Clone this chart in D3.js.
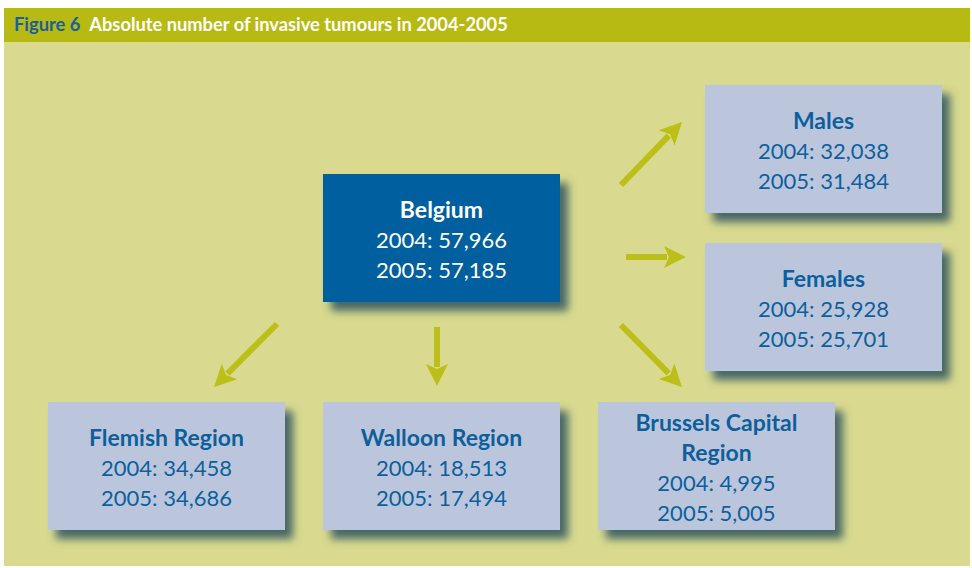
<!DOCTYPE html>
<html lang="en">
<head>
  <meta charset="UTF-8">
  <title>Absolute number of invasive tumours in 2004-2005</title>
  <script src="https://d3js.org/d3.v7.min.js"></script>
  <style>
    body { margin: 0; background: #fff; }
    svg { display: block; font-family: Lato, "Open Sans", sans-serif; }
  </style>
</head>
<body>
  <svg width="972" height="568"></svg>

  <script>
    // data
    const regions = ["Flemish Region", "Walloon Region", "Brussels Capital Region"];
    const regions2004 = [34458, 18513, 4995];
    const regions2005 = [34686, 17494, 5005];
    const sexes = ["Males", "Females"];
    const sexes2004 = [32038, 25928];
    const sexes2005 = [31484, 25701];
    const total = { name: "Belgium", v2004: 57966, v2005: 57185 };

    const svg = d3.select("svg");
    const fmt = d3.format(",");

    const boxW = 237, boxH = 128;
    const blue = "#0d5f9c", olive = "#bcbf18";

    // shadow filter
    const defs = svg.append("defs");
    const f = defs.append("filter").attr("id", "shadow")
      .attr("x", "-10%").attr("y", "-10%").attr("width", "130%").attr("height", "140%");
    f.append("feDropShadow")
      .attr("dx", 8).attr("dy", 9).attr("stdDeviation", 4)
      .attr("flood-color", "#3f6265").attr("flood-opacity", 0.95);

    // panel + header
    svg.append("rect").attr("x", 4).attr("y", 42).attr("width", 966).attr("height", 524).attr("fill", "#d9da8f");
    svg.append("rect").attr("x", 4).attr("y", 8).attr("width", 966).attr("height", 34).attr("fill", "#b8ba14");
    const title = svg.append("text").attr("x", 14).attr("y", 31)
      .attr("font-size", 18.3).attr("font-weight", "bold");
    title.append("tspan").attr("fill", "#1a5f9a").text("Figure 6");
    title.append("tspan").attr("fill", "#fff").attr("dx", 9).text("Absolute number of invasive tumours in 2004-2005");

    // scales for positions
    const xRegion = d3.scaleBand().domain(regions).range([48, 835]).paddingInner(0.138);
    const ySex = d3.scaleBand().domain(sexes).range([85, 371]).paddingInner(0.19);

    const nodes = [];
    nodes.push({ name: total.name, v2004: total.v2004, v2005: total.v2005,
      x: xRegion(regions[1]), y: 174, dark: true, lines: [total.name] });
    sexes.forEach((s, i) => nodes.push({ name: s, v2004: sexes2004[i], v2005: sexes2005[i],
      x: 705, y: ySex(s), lines: [s] }));
    regions.forEach((r, i) => nodes.push({ name: r, v2004: regions2004[i], v2005: regions2005[i],
      x: xRegion(r), y: 402,
      lines: r === "Brussels Capital Region" ? ["Brussels Capital", "Region"] : [r] }));

    const g = svg.selectAll("g.node").data(nodes).enter().append("g")
      .attr("class", "node")
      .attr("transform", d => `translate(${d.x},${d.y})`);

    g.append("rect")
      .attr("width", boxW).attr("height", boxH)
      .attr("fill", d => d.dark ? "#025f9e" : "#bbc6dd")
      .attr("filter", "url(#shadow)");

    g.each(function(d) {
      const lines = d.lines.map(t => ({ t, bold: true }))
        .concat([{ t: "2004: " + fmt(d.v2004) }, { t: "2005: " + fmt(d.v2005) }]);
      const lh = 30;
      const first = boxH / 2 - (lines.length - 1) * lh / 2 + 10;
      d3.select(this).selectAll("text").data(lines).enter().append("text")
        .attr("x", boxW / 2)
        .attr("y", (l, i) => first + i * lh)
        .attr("text-anchor", "middle")
        .attr("font-size", l => l.bold ? 23 : 22)
        .attr("font-weight", l => l.bold ? "bold" : "normal")
        .attr("fill", d.dark ? "#fff" : blue)
        .text(l => l.t);
    });

    // arrows, placed relative to box edges
    const bel = nodes[0];
    const arrows = [
      [bel.x + boxW + 61, bel.y + 11, 705 - 23, ySex("Males") + 37],
      [bel.x + boxW + 66, bel.y + 83, 705 - 19, bel.y + 83],
      [bel.x + boxW + 61, bel.y + 151, xRegion(regions[2]) + 84, 402 - 15],
      [xRegion(regions[0]) + 229, bel.y + 150, xRegion(regions[0]) + 166, 402 - 15],
      [bel.x + 114, bel.y + 153, bel.x + 114, 402 - 16]
    ];
    const ag = svg.append("g");
    arrows.forEach(([x1, y1, x2, y2]) => {
      const a = Math.atan2(y2 - y1, x2 - x1);
      const hl = 22, hw = 11;
      const bx = x2 - hl * Math.cos(a), by = y2 - hl * Math.sin(a);
      ag.append("line")
        .attr("x1", x1).attr("y1", y1).attr("x2", bx + 3 * Math.cos(a)).attr("y2", by + 3 * Math.sin(a))
        .attr("stroke", olive).attr("stroke-width", 6);
      const px = -Math.sin(a), py = Math.cos(a);
      ag.append("path")
        .attr("d", `M${x2},${y2}L${bx + hw * px},${by + hw * py}L${bx + 5 * Math.cos(a)},${by + 5 * Math.sin(a)}L${bx - hw * px},${by - hw * py}Z`)
        .attr("fill", olive);
    });
  </script>
</body>
</html>
